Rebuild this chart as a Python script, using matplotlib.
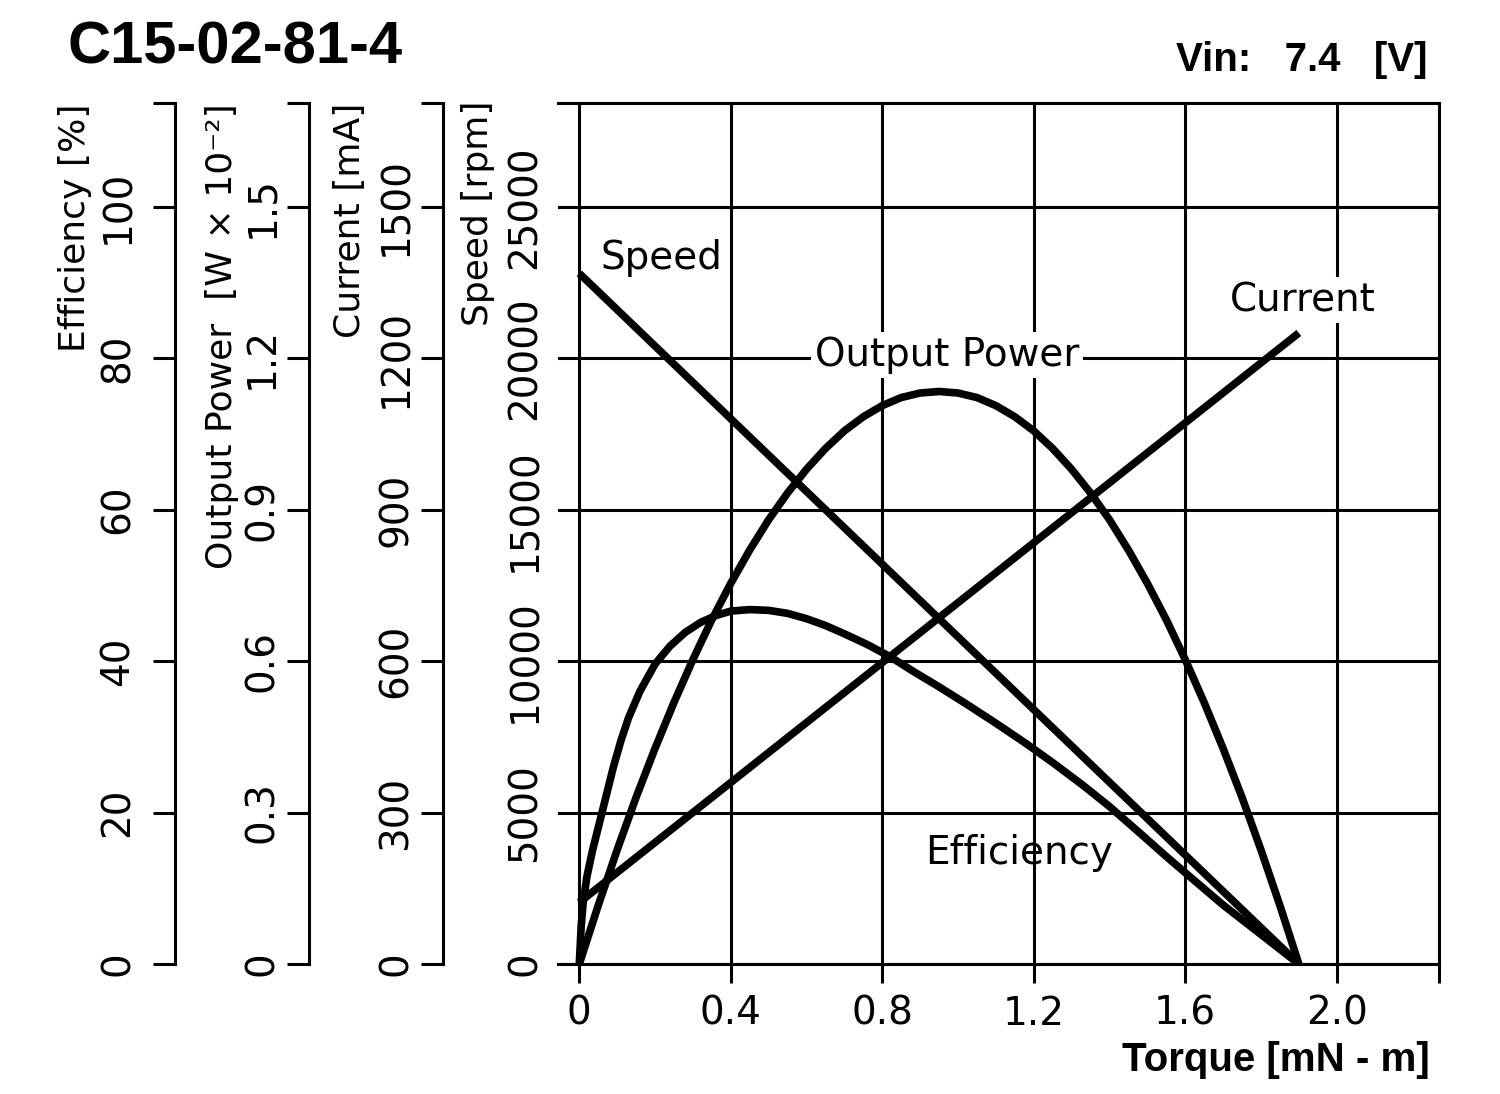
import matplotlib
matplotlib.use("Agg")  # no display needed
import matplotlib.pyplot as plt

# ---- data -----------------------------------------------------------------
torque_speed = [0.0, 1.90]
speed_rpm = [22800, 0]

torque_current = [0.0, 1.90]
current_ma = [122, 1250]

torque_power = [0.0, 0.05, 0.1, 0.15, 0.2, 0.25, 0.3, 0.35, 0.4, 0.45, 0.5, 0.55,
                0.6, 0.65, 0.7, 0.75, 0.8, 0.85, 0.9, 0.95, 1.0, 1.05, 1.1, 1.15,
                1.2, 1.25, 1.3, 1.35, 1.4, 1.45, 1.5, 1.55, 1.6, 1.65, 1.7, 1.75,
                1.8, 1.85, 1.9]
power_w = [0.0, 0.116, 0.226, 0.330, 0.427, 0.518, 0.603, 0.682, 0.754, 0.820,
           0.880, 0.933, 0.980, 1.021, 1.056, 1.084, 1.106, 1.122, 1.131, 1.134,
           1.131, 1.122, 1.106, 1.084, 1.056, 1.021, 0.980, 0.933, 0.880, 0.820,
           0.754, 0.682, 0.603, 0.518, 0.427, 0.330, 0.226, 0.116, 0.0]

torque_eff = [0.0, 0.005, 0.01, 0.02, 0.035, 0.05, 0.07, 0.09, 0.11, 0.13, 0.16,
              0.20, 0.24, 0.28, 0.32, 0.36, 0.40, 0.45, 0.50, 0.55, 0.60, 0.65,
              0.70, 0.76, 0.82, 0.88, 0.95, 1.02, 1.10, 1.18, 1.25, 1.33, 1.40,
              1.48, 1.55, 1.62, 1.70, 1.80, 1.90]
eff_pct = [0.0, 5.0, 8.0, 11.5, 15.0, 18.0, 22.0, 26.0, 29.5, 32.5, 36.0,
           39.6, 42.0, 43.8, 45.1, 46.0, 46.6, 46.8, 46.7, 46.3, 45.6, 44.7,
           43.6, 42.2, 40.6, 38.7, 36.6, 34.4, 31.8, 29.1, 26.6, 23.6, 20.8,
           17.3, 14.2, 11.2, 7.8, 3.9, 0.0]

torque_ticks = [0, 0.4, 0.8, 1.2, 1.6, 2.0]
torque_labels = ["0", "0.4", "0.8", "1.2", "1.6", "2.0"]
speed_ticks = [0, 5000, 10000, 15000, 20000, 25000]
eff_ticks = [0, 20, 40, 60, 80, 100]
power_ticks = [0, 0.3, 0.6, 0.9, 1.2, 1.5]
power_labels = ["0", "0.3", "0.6", "0.9", "1.2", "1.5"]
current_ticks = [0, 300, 600, 900, 1200, 1500]

# ---- layout (pixels of a 1500 x 1094 canvas) ---------------------------------
W_PX, H_PX = 1500, 1094
X_MIN, X_MAX = -0.0562, 2.2709
SPEED_TOP = 28434          # 25000 rpm == 100 % == 1.5 W == 1500 mA
LW = 2.2
CURVE_LW = 5.5
TICK_FS = 28
LABEL_FS = 26

plt.rcParams["font.family"] = ["DejaVu Sans"]


def px(x, y):
    return x / W_PX, 1 - y / H_PX


fig = plt.figure(figsize=(15, 10.94), dpi=100)
ax = fig.add_axes([558 / W_PX, (H_PX - 964) / H_PX, 881.3 / W_PX, 861.3 / H_PX])

ax.set_xlim(X_MIN, X_MAX)
ax.set_ylim(0, SPEED_TOP)
ax.set_xticks(torque_ticks + [X_MAX])
ax.set_xticklabels(torque_labels + [""])
ax.set_yticks(speed_ticks)
ax.set_yticklabels([str(v) for v in speed_ticks])
ax.tick_params(axis="x", direction="out", length=14, width=LW, pad=8, labelsize=TICK_FS)
ax.tick_params(axis="y", length=0, pad=23.8, labelsize=TICK_FS, labelrotation=90)
plt.setp(ax.get_yticklabels(), ha="center", va="center")
ax.grid(True, color="black", linewidth=LW)
ax.spines["left"].set_visible(False)
for s in ("top", "right", "bottom"):
    ax.spines[s].set_linewidth(LW)

curve = dict(color="black", lw=CURVE_LW, solid_joinstyle="round", solid_capstyle="butt")
ax.plot(torque_speed, speed_rpm, **curve)


def scale_axis(pos, top, ticks, labels, pad):
    tw = ax.twinx()
    tw.set_ylim(0, top)
    for s in ("top", "right", "bottom"):
        tw.spines[s].set_visible(False)
    sp = tw.spines["left"]
    sp.set_visible(True)
    sp.set_position(("axes", pos))
    sp.set_linewidth(LW)
    tw.yaxis.set_ticks_position("left")
    tw.set_yticks(ticks + [top])
    tw.set_yticklabels(labels + [""])
    tw.tick_params(axis="y", direction="out", length=15.8, width=LW, pad=pad,
                   labelsize=TICK_FS, labelrotation=90)
    plt.setp(tw.get_yticklabels(), ha="center", va="center")
    return tw


ax_eff = scale_axis((175 - 558) / 881.3, SPEED_TOP / 250, eff_ticks,
                    [str(v) for v in eff_ticks], 25.2)
ax_pow = scale_axis((309 - 558) / 881.3, SPEED_TOP / 250 * 0.015, power_ticks,
                    power_labels, 18)
ax_cur = scale_axis((443 - 558) / 881.3, SPEED_TOP / 250 * 15, current_ticks,
                    [str(v) for v in current_ticks], 18)

ax_eff.plot(torque_eff, eff_pct, **curve)
ax_pow.plot(torque_power, power_w, **curve)
ax_cur.plot(torque_current, current_ma, **curve)

# curve names
box = dict(facecolor="white", edgecolor="none", pad=3)
ax.text(0.055, 23310, "Speed", fontsize=TICK_FS, va="center", ha="left")
ax.text(0.622, 20106, "Output Power", fontsize=TICK_FS, va="center", ha="left", bbox=box)
ax.text(1.718, 21920, "Current", fontsize=TICK_FS, va="center", ha="left", bbox=box)
ax.text(0.913, 3665, "Efficiency", fontsize=TICK_FS, va="center", ha="left")

# axis titles on the left, rotated
fig.text(*px(75, 103), "Efficiency [%]", rotation=90, ha="center", va="top", fontsize=LABEL_FS)
fig.text(*px(222, 103), "Output Power  [W × 10⁻²]", rotation=90, ha="center", va="top",
         fontsize=LABEL_FS)
fig.text(*px(350, 103), "Current [mA]", rotation=90, ha="center", va="top", fontsize=LABEL_FS)
fig.text(*px(478, 100), "Speed [rpm]", rotation=90, ha="center", va="top", fontsize=LABEL_FS)

bold = dict(family=["Liberation Sans", "DejaVu Sans"], weight="bold")
fig.text(*px(68, 48), "C15-02-81-4", ha="left", va="center", fontsize=43, **bold)
fig.text(*px(1428, 60), "Vin:   7.4   [V]", ha="right", va="center", fontsize=29, **bold)
fig.text(*px(1430, 1060), "Torque [mN - m]", ha="right", va="center", fontsize=29, **bold)

fig.savefig("out.png", dpi=100)
